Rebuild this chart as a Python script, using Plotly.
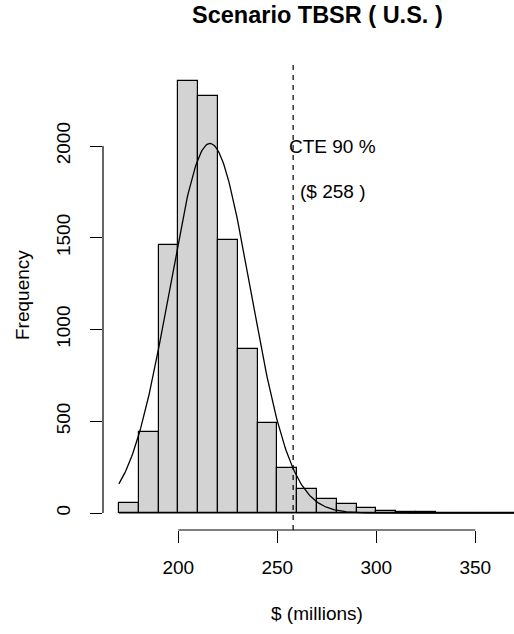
import numpy as np
import plotly.graph_objects as go

# ---- data ----
breaks = list(range(170, 380, 10))          # bin edges 170..370
counts = [53, 441, 1461, 2352, 2270, 1490, 894, 490, 246, 131,
          75, 49, 29, 13, 6, 3, 1, 1, 0, 0]
fit_mean = 216.0      # fitted normal curve parameters
fit_sd = 20.4
fit_peak = 2014.0
cte_value = 258
x_ticks = [200, 250, 300, 350]
y_ticks = [0, 500, 1000, 1500, 2000]
title = "Scenario TBSR ( U.S. )"
x_title = "$ (millions)"
y_title = "Frequency"
cte_label1 = "CTE 90 %"
cte_label2 = "($ 258 )"
label_x = 278
label_y1, label_y2 = 2000, 1750

# ---- layout geometry ----
W, H = 514, 634
ML, MR, MT, MB = 103, 0, 64, 104
xr = [161.97, 369.54]
yr = [-92.6, 2446.9]
FONT = "Liberation Sans, Arial, Helvetica, sans-serif"
FS = 19

def px2paper_x(px):
    return (px - ML) / (W - ML - MR)

def px2paper_y(py):
    return (H - MB - py) / (H - MT - MB)

centers = [(breaks[i] + breaks[i + 1]) / 2 for i in range(len(counts))]
widths = [breaks[i + 1] - breaks[i] for i in range(len(counts))]

fig = go.Figure()
fig.add_trace(go.Bar(
    x=centers, y=counts, width=widths,
    marker=dict(color="#D3D3D3", line=dict(color="black", width=1.2)),
    hoverinfo="skip", showlegend=False,
))

xc = np.linspace(breaks[0], breaks[-1], 401)
yc = fit_peak * np.exp(-0.5 * ((xc - fit_mean) / fit_sd) ** 2)
fig.add_trace(go.Scatter(x=xc, y=yc, mode="lines",
                         line=dict(color="black", width=1.3),
                         hoverinfo="skip", showlegend=False))

shapes = [
    # baseline under bars
    dict(type="line", xref="x", yref="y", x0=breaks[0], x1=breaks[-1], y0=0, y1=0,
         line=dict(color="black", width=1.2)),
    # x axis line
    dict(type="line", xref="x", yref="paper", x0=x_ticks[0], x1=x_ticks[-1], y0=0, y1=0,
         line=dict(color="black", width=1.2)),
    # y axis line
    dict(type="line", xref="paper", yref="y", x0=0, x1=0, y0=y_ticks[0], y1=y_ticks[-1],
         line=dict(color="black", width=1.2)),
    # CTE dashed line
    dict(type="line", xref="x", yref="paper", x0=cte_value, x1=cte_value, y0=0, y1=1,
         line=dict(color="black", width=1.2, dash="5px,5px")),
]

annotations = [
    dict(text="<b>%s</b>" % title, xref="paper", yref="paper",
         x=px2paper_x(317), y=px2paper_y(15), xanchor="center", yanchor="middle",
         showarrow=False, font=dict(size=23.5, family=FONT, color="black")),
    dict(text=x_title, xref="paper", yref="paper",
         x=px2paper_x(317), y=px2paper_y(613), xanchor="center", yanchor="middle",
         showarrow=False, font=dict(size=FS, family=FONT, color="black")),
    dict(text=y_title, xref="paper", yref="paper", textangle=-90,
         x=px2paper_x(22), y=px2paper_y(295), xanchor="center", yanchor="middle",
         showarrow=False, font=dict(size=FS, family=FONT, color="black")),
    dict(text=cte_label1, xref="x", yref="y", x=label_x, y=label_y1,
         xanchor="center", yanchor="middle", showarrow=False,
         font=dict(size=FS, family=FONT, color="black")),
    dict(text=cte_label2, xref="x", yref="y", x=label_x, y=label_y2,
         xanchor="center", yanchor="middle", showarrow=False,
         font=dict(size=FS, family=FONT, color="black")),
]

fig.update_layout(
    width=W, height=H,
    margin=dict(l=ML, r=MR, t=MT, b=MB, pad=0, autoexpand=False),
    paper_bgcolor="white", plot_bgcolor="white",
    bargap=0,
    shapes=shapes, annotations=annotations,
    font=dict(family=FONT, size=FS, color="black"),
    xaxis=dict(range=xr, showgrid=False, zeroline=False, showline=False,
               tickmode="array", tickvals=x_ticks, ticktext=[str(v) for v in x_ticks],
               ticks="outside", ticklen=12, tickwidth=1.2, tickcolor="black",
               ticklabelstandoff=8,
               tickfont=dict(size=FS, family=FONT, color="black"),
               automargin=False, fixedrange=True),
    yaxis=dict(range=yr, showgrid=False, zeroline=False, showline=False,
               tickmode="array", tickvals=y_ticks, ticktext=[str(v) for v in y_ticks],
               ticks="outside", ticklen=12, tickwidth=1.2, tickcolor="black",
               tickangle=-90, ticklabelstandoff=12,
               tickfont=dict(size=FS, family=FONT, color="black"),
               automargin=False, fixedrange=True),
)

fig.write_html("out.html", config={"displayModeBar": False})
